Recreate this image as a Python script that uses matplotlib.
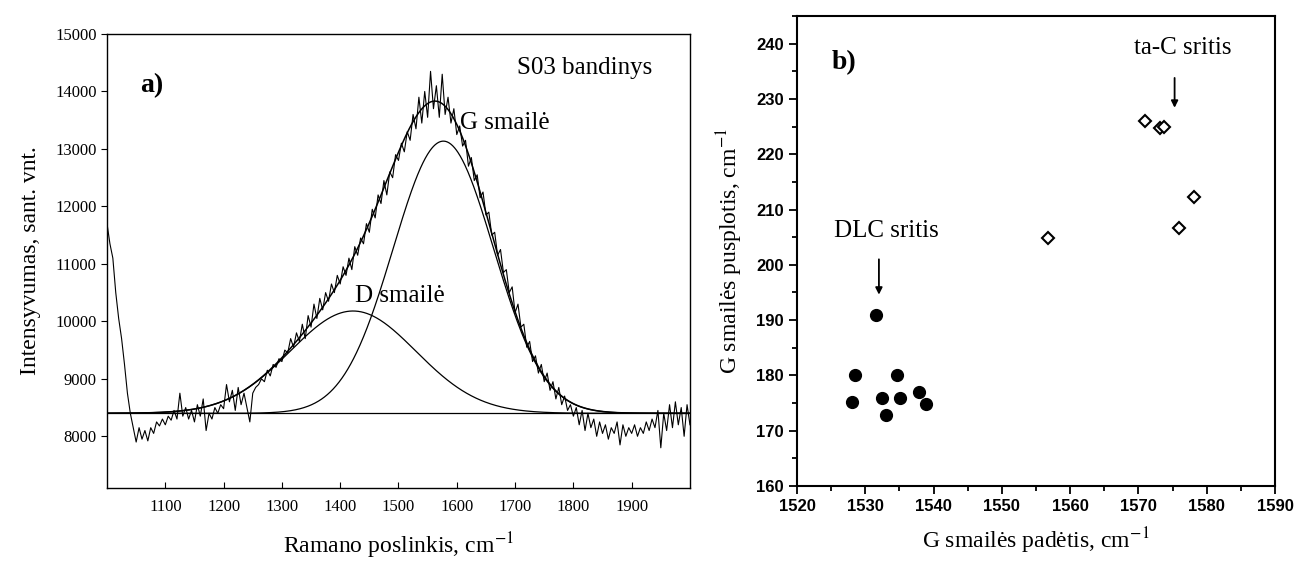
import numpy as np
import matplotlib
import matplotlib.pyplot as plt
from matplotlib.ticker import MultipleLocator
matplotlib.use('Agg')

plt.rcParams['font.family'] = ['Liberation Serif', 'DejaVu Serif']
plt.rcParams['mathtext.fontset'] = 'stix'

# a) Raman spectrum of sample S03, every 5 cm-1
shift_start, shift_step = 1000, 5
intensity = [
    11700, 11350, 11100, 10500, 10050, 9700, 9250, 8750, 8400, 8150,
    7900, 8150, 7950, 8100, 7920, 8150, 8050, 8250, 8180, 8300,
    8200, 8350, 8280, 8450, 8300, 8750, 8350, 8500, 8300, 8450,
    8250, 8550, 8350, 8650, 8100, 8400, 8300, 8500, 8400, 8550,
    8480, 8900, 8600, 8800, 8450, 8850, 8550, 8750, 8500, 8250,
    8750, 8850, 8900, 9000, 8950, 9150, 9050, 9250, 9200, 9350,
    9300, 9500, 9450, 9700, 9550, 9800, 9650, 9950, 9700, 10100,
    9900, 10300, 10050, 10400, 10200, 10500, 10350, 10650, 10500, 10800,
    10650, 10950, 10800, 11100, 10900, 11300, 11150, 11450, 11350, 11700,
    11550, 11950, 11800, 12200, 12050, 12450, 12200, 12600, 12500, 12900,
    12800, 13100, 12950, 13300, 13150, 13600, 13350, 13900, 13450, 14000,
    13550, 14350, 13700, 14100, 13550, 14300, 13600, 13900, 13450, 13700,
    13250, 13400, 13050, 13150, 12700, 12850, 12450, 12550, 12150, 12250,
    11850, 11900, 11500, 11550, 11150, 11250, 10850, 10900, 10500, 10600,
    10150, 10300, 9900, 9950, 9550, 9650, 9300, 9400, 9100, 9250,
    8950, 9100, 8800, 8950, 8650, 8850, 8550, 8700, 8450, 8550,
    8350, 8500, 8200, 8450, 8100, 8400, 8150, 8300, 8000, 8250,
    8050, 8200, 7950, 8150, 8050, 8250, 7850, 8200, 8000, 8150,
    8050, 8200, 8000, 8150, 8050, 8250, 8100, 8300, 8150, 8450,
    7800, 8400, 8100, 8550, 8150, 8600, 8200, 8500, 8000, 8550,
    8200,
]
raman_shift = shift_start + shift_step * np.arange(len(intensity))

# fitted components (baseline, D peak, G peak)
baseline = 8400
d_center, d_height, d_sigma = 1422, 1780, 108
g_center, g_height, g_sigma = 1577, 4736, 86

# b) G peak width vs position
dlc_pos = [1531.5, 1528.5, 1528.1, 1532.4, 1533.1, 1534.6, 1535.1, 1537.9, 1538.9]
dlc_fwhm = [191, 180, 175.1, 176, 172.8, 180, 176, 177, 174.9]
tac_pos = [1556.7, 1570.9, 1573.2, 1573.8, 1578.1, 1576.0]
tac_fwhm = [204.8, 226.0, 224.7, 224.9, 212.2, 206.7]

fig = plt.figure(figsize=(12.94, 5.61), dpi=100)

# ---- panel a
ax = fig.add_axes([0.0827, 0.1301, 0.4505, 0.8093])
xs = np.linspace(1000, 2000, 1001)
d_peak = d_height * np.exp(-(xs - d_center) ** 2 / (2 * d_sigma ** 2))
g_peak = g_height * np.exp(-(xs - g_center) ** 2 / (2 * g_sigma ** 2))

ax.plot(raman_shift, intensity, color='black', lw=0.8)
ax.plot(xs, baseline + d_peak + g_peak, color='black', lw=1.1)
ax.plot(xs, baseline + d_peak, color='black', lw=0.9)
ax.plot(xs, baseline + g_peak, color='black', lw=0.9)
ax.axhline(baseline, color='black', lw=0.9)

ax.set_xlim(1000, 2000)
ax.set_ylim(7100, 15000)
ax.set_xticks(range(1100, 2000, 100))
ax.set_yticks(range(8000, 15001, 1000))
ax.tick_params(axis='x', direction='in', length=4, labelsize=12, pad=8)
ax.tick_params(axis='y', direction='out', length=4, labelsize=12)
for s in ax.spines.values():
    s.set_linewidth(1.0)
ax.set_xlabel('Ramano poslinkis, cm$^{-1}$', fontsize=17, labelpad=11)
ax.set_ylabel('Intensyvumas, sant. vnt.', fontsize=17, labelpad=10)

ax.text(1057, 14110, 'a)', fontsize=20, fontweight='bold', va='center')
ax.text(1703, 14407, 'S03 bandinys', fontsize=18, va='center')
ax.text(1605, 13447, 'G smailė', fontsize=18, va='center')
ax.text(1425, 10445, 'D smailė', fontsize=18, va='center')

# ---- panel b
bx = fig.add_axes([0.6159, 0.1337, 0.3694, 0.8378])
bx.plot(dlc_pos, dlc_fwhm, 'o', color='black', markersize=8.5)
bx.plot(tac_pos, tac_fwhm, 'D', markerfacecolor='white', markeredgecolor='black',
        markeredgewidth=1.5, markersize=6)

bx.set_xlim(1520, 1590)
bx.set_ylim(160, 245)
bx.xaxis.set_major_locator(MultipleLocator(10))
bx.xaxis.set_minor_locator(MultipleLocator(5))
bx.yaxis.set_major_locator(MultipleLocator(10))
bx.yaxis.set_minor_locator(MultipleLocator(5))
bx.tick_params(which='major', direction='out', length=6, width=1.3)
bx.tick_params(which='minor', direction='out', length=3.5, width=1.3)
for s in bx.spines.values():
    s.set_linewidth(1.5)
for lab in bx.get_xticklabels() + bx.get_yticklabels():
    lab.set_family('Liberation Sans')
    lab.set_fontsize(12)
    lab.set_fontweight('bold')
bx.set_xlabel('G smailės padėtis, cm$^{-1}$', fontsize=17, labelpad=8)
bx.set_ylabel('G smailės pusplotis, cm$^{-1}$', fontsize=17, labelpad=8)

bx.text(1525.1, 236.6, 'b)', fontsize=20, fontweight='bold', va='center')
bx.text(1533.1, 206.2, 'DLC sritis', fontsize=18, ha='center', va='center')
bx.text(1576.5, 239.3, 'ta-C sritis', fontsize=18, ha='center', va='center')
arrow = dict(arrowstyle='-|>', color='black', lw=1.3, mutation_scale=10)
bx.annotate('', xy=(1532.0, 194.1), xytext=(1532.0, 201.5), arrowprops=arrow)
bx.annotate('', xy=(1575.3, 227.9), xytext=(1575.3, 234.3), arrowprops=arrow)

fig.savefig('out.png', dpi=100)
